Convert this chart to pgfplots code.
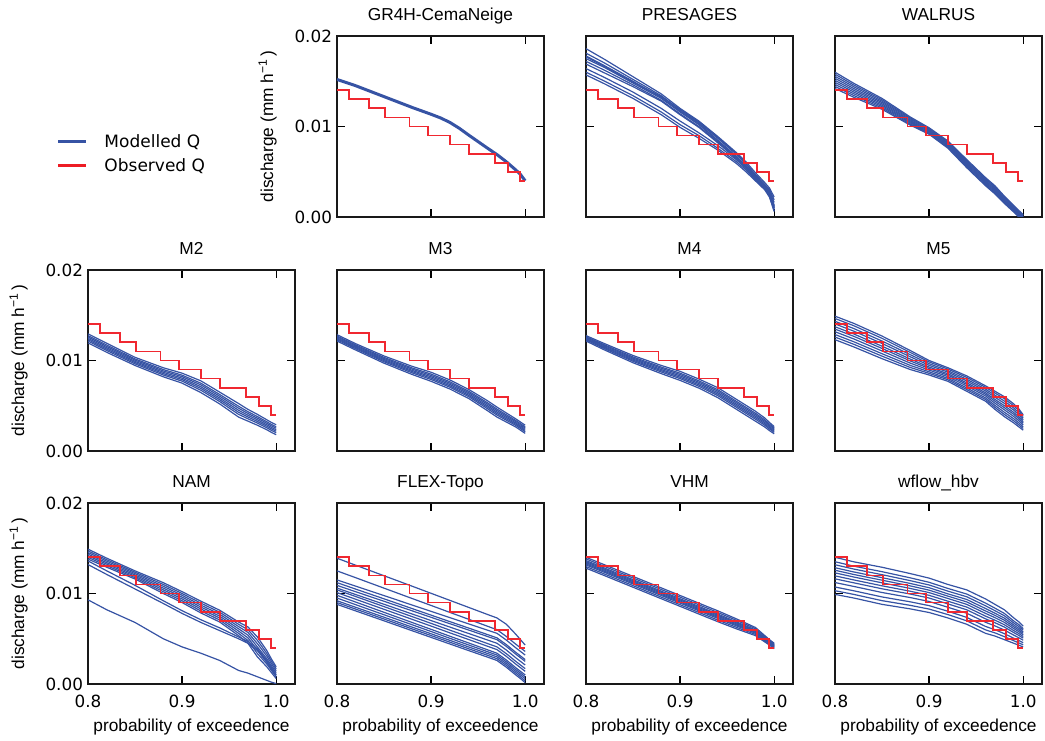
\documentclass[border=0pt]{standalone}
\usepackage{fontspec}
\setmainfont{Liberation Sans}
\newfontfamily\dvfont{DejaVu Sans}
\usepackage{pgfplots}
\usepackage{pgfplotstable}
\pgfplotsset{compat=1.18}
\definecolor{mblue}{RGB}{54,83,164}
\definecolor{ored}{RGB}{237,28,36}
\definecolor{oredl}{RGB}{240,40,48}

\pgfplotstableread{
x a
0.80 15.2e-3
0.82 14.5e-3
0.85 13.3e-3
0.88 12.1e-3
0.90 11.35e-3
0.91 10.95e-3
0.92 10.45e-3
0.93 9.8e-3
0.94 9.05e-3
0.96 7.6e-3
0.97 6.9e-3
0.98 6.1e-3
0.99 5.2e-3
0.995 4.7e-3
1.00 4.0e-3
}\tGR

\pgfplotstableread{
x a b c d e f g h i j
0.80 18.6e-3 18.1e-3 17.8e-3 17.5e-3 17.2e-3 16.9e-3 17.7e-3 16.4e-3 16.0e-3 15.7e-3
0.82 17.4e-3 17.0e-3 16.7e-3 16.5e-3 16.2e-3 15.9e-3 16.6e-3 15.4e-3 15.0e-3 14.7e-3
0.85 15.5e-3 15.2e-3 15.0e-3 14.8e-3 14.6e-3 14.4e-3 14.9e-3 13.8e-3 13.4e-3 13.1e-3
0.88 13.6e-3 13.4e-3 13.2e-3 13.1e-3 12.9e-3 12.8e-3 13.3e-3 12.0e-3 11.6e-3 11.3e-3
0.90 12.0e-3 11.8e-3 11.7e-3 11.6e-3 11.4e-3 11.3e-3 11.9e-3 10.6e-3 10.2e-3 9.9e-3
0.92 10.6e-3 10.4e-3 10.3e-3 10.2e-3 10.0e-3 9.9e-3 10.5e-3 9.3e-3 9.0e-3 8.7e-3
0.94 8.9e-3 8.7e-3 8.5e-3 8.4e-3 8.3e-3 8.2e-3 8.8e-3 7.9e-3 7.6e-3 7.4e-3
0.96 7.1e-3 6.9e-3 6.7e-3 6.6e-3 6.5e-3 6.4e-3 7.0e-3 6.3e-3 6.1e-3 5.9e-3
0.97 6.1e-3 5.9e-3 5.7e-3 5.6e-3 5.5e-3 5.4e-3 5.9e-3 5.4e-3 5.2e-3 5.0e-3
0.98 4.9e-3 4.7e-3 4.5e-3 4.4e-3 4.3e-3 4.2e-3 4.6e-3 4.3e-3 4.1e-3 4.0e-3
0.99 3.8e-3 3.6e-3 3.5e-3 3.4e-3 3.2e-3 3.1e-3 3.5e-3 3.3e-3 3.1e-3 3.0e-3
0.995 3.2e-3 3.0e-3 2.9e-3 2.7e-3 2.5e-3 2.3e-3 2.8e-3 2.6e-3 2.4e-3 2.2e-3
1.00 2.2e-3 1.9e-3 1.6e-3 1.3e-3 1.0e-3 0.7e-3 1.2e-3 1.1e-3 0.9e-3 0.6e-3
}\tPR

\pgfplotstableread{
x a b c d e f g h i
0.80 16.0e-3 15.78e-3 15.55e-3 15.33e-3 15.1e-3 14.88e-3 14.65e-3 14.43e-3 14.2e-3
0.82 14.77e-3 14.58e-3 14.39e-3 14.19e-3 14.0e-3 13.81e-3 13.62e-3 13.42e-3 13.23e-3
0.85 13.1e-3 12.95e-3 12.8e-3 12.65e-3 12.5e-3 12.35e-3 12.2e-3 12.05e-3 11.9e-3
0.88 11.05e-3 10.94e-3 10.83e-3 10.71e-3 10.6e-3 10.49e-3 10.38e-3 10.26e-3 10.15e-3
0.90 9.86e-3 9.77e-3 9.68e-3 9.59e-3 9.5e-3 9.41e-3 9.32e-3 9.23e-3 9.14e-3
0.92 8.4e-3 8.3e-3 8.2e-3 8.1e-3 8.0e-3 7.9e-3 7.8e-3 7.7e-3 7.6e-3
0.94 6.35e-3 6.24e-3 6.13e-3 6.01e-3 5.9e-3 5.79e-3 5.68e-3 5.56e-3 5.45e-3
0.96 4.35e-3 4.24e-3 4.13e-3 4.01e-3 3.9e-3 3.79e-3 3.68e-3 3.56e-3 3.45e-3
0.97 3.45e-3 3.34e-3 3.23e-3 3.11e-3 3.0e-3 2.89e-3 2.78e-3 2.66e-3 2.55e-3
0.98 2.3e-3 2.2e-3 2.1e-3 2.0e-3 1.9e-3 1.8e-3 1.7e-3 1.6e-3 1.5e-3
0.99 1.26e-3 1.17e-3 1.08e-3 0.99e-3 0.9e-3 0.81e-3 0.72e-3 0.63e-3 0.54e-3
0.995 0.76e-3 0.67e-3 0.58e-3 0.49e-3 0.4e-3 0.31e-3 0.22e-3 0.13e-3 0.04e-3
1.00 0.26e-3 0.17e-3 0.08e-3 -0.01e-3 -0.1e-3 -0.19e-3 -0.28e-3 -0.37e-3 -0.46e-3
}\tWA

\pgfplotstableread{
x a b c d e f g
0.80 12.95e-3 12.75e-3 12.6e-3 12.45e-3 12.3e-3 12.15e-3 11.95e-3
0.82 11.9e-3 11.7e-3 11.55e-3 11.4e-3 11.25e-3 11.1e-3 10.9e-3
0.85 10.35e-3 10.17e-3 10.04e-3 9.9e-3 9.77e-3 9.63e-3 9.45e-3
0.88 9.2e-3 9.0e-3 8.85e-3 8.7e-3 8.55e-3 8.4e-3 8.2e-3
0.90 8.6e-3 8.38e-3 8.22e-3 8.05e-3 7.89e-3 7.72e-3 7.5e-3
0.92 7.75e-3 7.49e-3 7.3e-3 7.1e-3 6.91e-3 6.71e-3 6.45e-3
0.94 6.5e-3 6.24e-3 6.05e-3 5.85e-3 5.66e-3 5.46e-3 5.2e-3
0.96 5.25e-3 4.95e-3 4.73e-3 4.5e-3 4.28e-3 4.05e-3 3.75e-3
0.97 4.6e-3 4.34e-3 4.15e-3 3.95e-3 3.76e-3 3.56e-3 3.3e-3
0.98 4.05e-3 3.81e-3 3.63e-3 3.45e-3 3.27e-3 3.09e-3 2.85e-3
0.99 3.45e-3 3.23e-3 3.07e-3 2.9e-3 2.74e-3 2.57e-3 2.35e-3
0.995 3.15e-3 2.93e-3 2.77e-3 2.6e-3 2.44e-3 2.27e-3 2.05e-3
1.00 2.9e-3 2.68e-3 2.52e-3 2.35e-3 2.19e-3 2.02e-3 1.8e-3
}\tMii

\pgfplotstableread{
x a b c d e f g
0.80 12.85e-3 12.71e-3 12.61e-3 12.5e-3 12.4e-3 12.29e-3 12.15e-3
0.82 11.85e-3 11.71e-3 11.61e-3 11.5e-3 11.4e-3 11.29e-3 11.15e-3
0.85 10.5e-3 10.34e-3 10.22e-3 10.1e-3 9.98e-3 9.86e-3 9.7e-3
0.88 9.35e-3 9.17e-3 9.04e-3 8.9e-3 8.77e-3 8.63e-3 8.45e-3
0.90 8.7e-3 8.5e-3 8.35e-3 8.2e-3 8.05e-3 7.9e-3 7.7e-3
0.92 7.85e-3 7.65e-3 7.5e-3 7.35e-3 7.2e-3 7.05e-3 6.85e-3
0.94 6.8e-3 6.6e-3 6.45e-3 6.3e-3 6.15e-3 6.0e-3 5.8e-3
0.96 5.55e-3 5.33e-3 5.17e-3 5.0e-3 4.84e-3 4.67e-3 4.45e-3
0.97 4.85e-3 4.63e-3 4.47e-3 4.3e-3 4.14e-3 3.97e-3 3.75e-3
0.98 4.2e-3 4.0e-3 3.85e-3 3.7e-3 3.55e-3 3.4e-3 3.2e-3
0.99 3.55e-3 3.37e-3 3.24e-3 3.1e-3 2.97e-3 2.83e-3 2.65e-3
0.995 3.2e-3 3.02e-3 2.89e-3 2.75e-3 2.62e-3 2.48e-3 2.3e-3
1.00 2.85e-3 2.67e-3 2.54e-3 2.4e-3 2.27e-3 2.13e-3 1.95e-3
}\tMiii

\pgfplotstableread{
x a b c d e f g
0.80 12.75e-3 12.63e-3 12.54e-3 12.45e-3 12.36e-3 12.27e-3 12.15e-3
0.82 11.85e-3 11.71e-3 11.61e-3 11.5e-3 11.4e-3 11.29e-3 11.15e-3
0.85 10.55e-3 10.39e-3 10.27e-3 10.15e-3 10.03e-3 9.91e-3 9.75e-3
0.88 9.45e-3 9.27e-3 9.14e-3 9.0e-3 8.87e-3 8.73e-3 8.55e-3
0.90 8.8e-3 8.6e-3 8.45e-3 8.3e-3 8.15e-3 8.0e-3 7.8e-3
0.92 7.95e-3 7.75e-3 7.6e-3 7.45e-3 7.3e-3 7.15e-3 6.95e-3
0.94 7.0e-3 6.78e-3 6.62e-3 6.45e-3 6.29e-3 6.12e-3 5.9e-3
0.96 5.7e-3 5.48e-3 5.32e-3 5.15e-3 4.99e-3 4.82e-3 4.6e-3
0.97 5.05e-3 4.83e-3 4.67e-3 4.5e-3 4.34e-3 4.17e-3 3.95e-3
0.98 4.4e-3 4.18e-3 4.02e-3 3.85e-3 3.69e-3 3.52e-3 3.3e-3
0.99 3.65e-3 3.45e-3 3.3e-3 3.15e-3 3.0e-3 2.85e-3 2.65e-3
0.995 3.15e-3 2.97e-3 2.84e-3 2.7e-3 2.57e-3 2.43e-3 2.25e-3
1.00 2.7e-3 2.54e-3 2.42e-3 2.3e-3 2.18e-3 2.06e-3 1.9e-3
}\tMiv

\pgfplotstableread{
x a b c d e f g h i j
0.80 14.9e-3 14.64e-3 14.33e-3 14.04e-3 13.73e-3 13.47e-3 13.18e-3 12.87e-3 12.59e-3 12.3e-3
0.82 14.1e-3 13.84e-3 13.53e-3 13.24e-3 12.93e-3 12.67e-3 12.38e-3 12.07e-3 11.79e-3 11.5e-3
0.85 12.7e-3 12.45e-3 12.15e-3 11.88e-3 11.58e-3 11.33e-3 11.05e-3 10.75e-3 10.48e-3 10.2e-3
0.88 11.1e-3 10.89e-3 10.64e-3 10.41e-3 10.16e-3 9.95e-3 9.71e-3 9.46e-3 9.23e-3 9.0e-3
0.90 10.0e-3 9.84e-3 9.65e-3 9.47e-3 9.28e-3 9.12e-3 8.94e-3 8.75e-3 8.58e-3 8.4e-3
0.92 9.2e-3 9.05e-3 8.87e-3 8.71e-3 8.53e-3 8.38e-3 8.21e-3 8.03e-3 7.87e-3 7.7e-3
0.94 8.3e-3 8.13e-3 7.93e-3 7.74e-3 7.54e-3 7.37e-3 7.18e-3 6.97e-3 6.79e-3 6.6e-3
0.96 7.2e-3 7.03e-3 6.83e-3 6.64e-3 6.44e-3 6.27e-3 6.08e-3 5.87e-3 5.69e-3 5.5e-3
0.97 6.6e-3 6.4e-3 6.16e-3 5.94e-3 5.7e-3 5.5e-3 5.28e-3 5.04e-3 4.82e-3 4.6e-3
0.98 6.0e-3 5.78e-3 5.52e-3 5.27e-3 5.01e-3 4.79e-3 4.55e-3 4.28e-3 4.04e-3 3.8e-3
0.99 5.2e-3 4.99e-3 4.74e-3 4.51e-3 4.26e-3 4.05e-3 3.81e-3 3.56e-3 3.33e-3 3.1e-3
0.995 4.7e-3 4.5e-3 4.26e-3 4.04e-3 3.8e-3 3.6e-3 3.38e-3 3.14e-3 2.92e-3 2.7e-3
1.00 4.0e-3 3.83e-3 3.63e-3 3.44e-3 3.24e-3 3.07e-3 2.88e-3 2.67e-3 2.49e-3 2.3e-3
}\tMv

\pgfplotstableread{
x a b c d e f g h i j
0.80 14.9e-3 14.71e-3 14.53e-3 14.35e-3 14.17e-3 13.99e-3 13.8e-3 13.6e-3 13.2e-3 9.3e-3
0.82 13.9e-3 13.73e-3 13.57e-3 13.4e-3 13.24e-3 13.07e-3 12.9e-3 12.5e-3 12.1e-3 8.2e-3
0.85 12.5e-3 12.35e-3 12.2e-3 12.05e-3 11.9e-3 11.75e-3 11.6e-3 10.9e-3 10.5e-3 6.8e-3
0.88 11.2e-3 11.0e-3 10.8e-3 10.6e-3 10.4e-3 10.2e-3 10.0e-3 9.2e-3 8.9e-3 5.0e-3
0.90 10.2e-3 10.0e-3 9.8e-3 9.6e-3 9.4e-3 9.2e-3 9.0e-3 8.1e-3 7.8e-3 4.1e-3
0.92 9.15e-3 8.93e-3 8.71e-3 8.5e-3 8.29e-3 8.07e-3 7.85e-3 7.1e-3 6.8e-3 3.4e-3
0.94 8.15e-3 7.93e-3 7.71e-3 7.5e-3 7.29e-3 7.07e-3 6.85e-3 6.2e-3 5.9e-3 2.6e-3
0.96 6.85e-3 6.6e-3 6.35e-3 6.1e-3 5.85e-3 5.6e-3 5.35e-3 5.2e-3 5.0e-3 1.5e-3
0.97 6.3e-3 6.0e-3 5.7e-3 5.4e-3 5.1e-3 4.81e-3 4.5e-3 4.7e-3 4.5e-3 1.2e-3
0.98 5.2e-3 4.83e-3 4.46e-3 4.1e-3 3.74e-3 3.37e-3 3.0e-3 3.9e-3 3.7e-3 0.8e-3
0.99 3.7e-3 3.39e-3 3.1e-3 2.8e-3 2.5e-3 2.21e-3 1.9e-3 2.6e-3 2.4e-3 0.4e-3
0.995 2.75e-3 2.5e-3 2.25e-3 2.0e-3 1.75e-3 1.5e-3 1.25e-3 1.8e-3 1.6e-3 0.2e-3
1.00 1.9e-3 1.68e-3 1.46e-3 1.25e-3 1.04e-3 0.82e-3 0.6e-3 1.0e-3 0.8e-3 0.05e-3
}\tNA

\pgfplotstableread{
x a b c d e f g h i j k l m
0.80 13.9e-3 12.5e-3 11.5e-3 11.2e-3 10.9e-3 10.6e-3 10.4e-3 10.1e-3 9.8e-3 9.5e-3 9.2e-3 9.0e-3 8.8e-3
0.82 13.12e-3 11.74e-3 10.81e-3 10.48e-3 10.19e-3 9.88e-3 9.66e-3 9.36e-3 9.05e-3 8.76e-3 8.47e-3 8.27e-3 8.07e-3
0.85 11.96e-3 10.59e-3 9.77e-3 9.41e-3 9.14e-3 8.81e-3 8.55e-3 8.25e-3 7.92e-3 7.65e-3 7.38e-3 7.18e-3 6.98e-3
0.88 10.8e-3 9.44e-3 8.72e-3 8.33e-3 8.08e-3 7.73e-3 7.44e-3 7.14e-3 6.79e-3 6.54e-3 6.28e-3 6.08e-3 5.88e-3
0.90 10.02e-3 8.68e-3 8.03e-3 7.61e-3 7.37e-3 7.01e-3 6.7e-3 6.4e-3 6.04e-3 5.8e-3 5.55e-3 5.35e-3 5.15e-3
0.92 9.24e-3 7.91e-3 7.33e-3 6.89e-3 6.66e-3 6.29e-3 5.95e-3 5.65e-3 5.28e-3 5.05e-3 4.82e-3 4.62e-3 4.42e-3
0.94 8.46e-3 7.15e-3 6.64e-3 6.18e-3 5.96e-3 5.58e-3 5.21e-3 4.91e-3 4.53e-3 4.31e-3 4.09e-3 3.89e-3 3.69e-3
0.96 7.68e-3 6.38e-3 5.95e-3 5.46e-3 5.25e-3 4.86e-3 4.47e-3 4.17e-3 3.78e-3 3.57e-3 3.37e-3 3.17e-3 2.97e-3
0.97 7.3e-3 6.0e-3 5.6e-3 5.1e-3 4.9e-3 4.5e-3 4.1e-3 3.8e-3 3.4e-3 3.2e-3 3.0e-3 2.8e-3 2.6e-3
0.98 6.6e-3 5.25e-3 4.85e-3 4.35e-3 4.15e-3 3.75e-3 3.35e-3 3.05e-3 2.65e-3 2.45e-3 2.25e-3 2.05e-3 1.85e-3
0.99 5.5e-3 4.4e-3 4.0e-3 3.5e-3 3.3e-3 2.9e-3 2.5e-3 2.2e-3 1.8e-3 1.6e-3 1.4e-3 1.2e-3 1.0e-3
0.995 4.9e-3 4.0e-3 3.6e-3 3.1e-3 2.9e-3 2.5e-3 2.1e-3 1.8e-3 1.4e-3 1.2e-3 1.0e-3 0.8e-3 0.6e-3
1.00 4.3e-3 3.6e-3 3.2e-3 2.7e-3 2.5e-3 2.1e-3 1.7e-3 1.4e-3 1.0e-3 0.8e-3 0.6e-3 0.35e-3 0.15e-3
}\tFL

\pgfplotstableread{
x a b c d e f g h i
0.80 14.0e-3 13.82e-3 13.64e-3 13.52e-3 13.4e-3 13.28e-3 13.16e-3 12.98e-3 12.8e-3
0.82 13.16e-3 12.98e-3 12.8e-3 12.68e-3 12.56e-3 12.44e-3 12.32e-3 12.14e-3 11.96e-3
0.85 11.89e-3 11.71e-3 11.53e-3 11.41e-3 11.29e-3 11.17e-3 11.05e-3 10.87e-3 10.69e-3
0.88 10.62e-3 10.44e-3 10.26e-3 10.14e-3 10.02e-3 9.9e-3 9.78e-3 9.6e-3 9.42e-3
0.90 9.78e-3 9.6e-3 9.42e-3 9.3e-3 9.18e-3 9.06e-3 8.94e-3 8.76e-3 8.58e-3
0.92 8.93e-3 8.75e-3 8.57e-3 8.45e-3 8.33e-3 8.21e-3 8.09e-3 7.91e-3 7.73e-3
0.94 8.09e-3 7.91e-3 7.73e-3 7.61e-3 7.49e-3 7.37e-3 7.25e-3 7.07e-3 6.89e-3
0.96 7.19e-3 7.03e-3 6.86e-3 6.75e-3 6.64e-3 6.53e-3 6.42e-3 6.26e-3 6.09e-3
0.97 6.72e-3 6.57e-3 6.42e-3 6.32e-3 6.22e-3 6.12e-3 6.02e-3 5.87e-3 5.72e-3
0.98 6.25e-3 6.12e-3 5.98e-3 5.89e-3 5.8e-3 5.71e-3 5.62e-3 5.49e-3 5.35e-3
0.99 5.35e-3 5.25e-3 5.14e-3 5.07e-3 5.0e-3 4.93e-3 4.86e-3 4.76e-3 4.65e-3
0.995 4.9e-3 4.81e-3 4.72e-3 4.66e-3 4.6e-3 4.54e-3 4.48e-3 4.39e-3 4.3e-3
1.00 4.5e-3 4.41e-3 4.32e-3 4.26e-3 4.2e-3 4.14e-3 4.08e-3 3.99e-3 3.9e-3
}\tVH

\pgfplotstableread{
x a b c d e f g h i j k l
0.80 14.0e-3 13.51e-3 13.18e-3 12.85e-3 12.57e-3 12.28e-3 11.95e-3 11.62e-3 11.21e-3 10.72e-3 10.31e-3 9.9e-3
0.82 13.5e-3 13.02e-3 12.7e-3 12.38e-3 12.1e-3 11.82e-3 11.5e-3 11.18e-3 10.78e-3 10.3e-3 9.9e-3 9.5e-3
0.85 12.9e-3 12.41e-3 12.08e-3 11.75e-3 11.47e-3 11.18e-3 10.85e-3 10.52e-3 10.11e-3 9.62e-3 9.21e-3 8.8e-3
0.88 12.2e-3 11.73e-3 11.42e-3 11.11e-3 10.84e-3 10.56e-3 10.25e-3 9.94e-3 9.55e-3 9.08e-3 8.69e-3 8.3e-3
0.90 11.7e-3 11.24e-3 10.94e-3 10.64e-3 10.37e-3 10.1e-3 9.8e-3 9.5e-3 9.12e-3 8.66e-3 8.28e-3 7.9e-3
0.92 11.0e-3 10.56e-3 10.26e-3 9.96e-3 9.71e-3 9.45e-3 9.15e-3 8.85e-3 8.48e-3 8.04e-3 7.67e-3 7.3e-3
0.94 10.4e-3 9.94e-3 9.64e-3 9.34e-3 9.07e-3 8.8e-3 8.5e-3 8.2e-3 7.82e-3 7.36e-3 6.98e-3 6.6e-3
0.96 9.4e-3 8.94e-3 8.64e-3 8.34e-3 8.07e-3 7.8e-3 7.5e-3 7.2e-3 6.82e-3 6.36e-3 5.98e-3 5.6e-3
0.97 8.8e-3 8.38e-3 8.1e-3 7.82e-3 7.58e-3 7.33e-3 7.05e-3 6.77e-3 6.42e-3 6.0e-3 5.65e-3 5.3e-3
0.98 8.2e-3 7.8e-3 7.54e-3 7.28e-3 7.05e-3 6.81e-3 6.55e-3 6.29e-3 5.96e-3 5.56e-3 5.23e-3 4.9e-3
0.99 7.3e-3 6.96e-3 6.74e-3 6.52e-3 6.32e-3 6.12e-3 5.9e-3 5.68e-3 5.4e-3 5.06e-3 4.78e-3 4.5e-3
0.995 6.9e-3 6.59e-3 6.38e-3 6.17e-3 5.99e-3 5.81e-3 5.6e-3 5.39e-3 5.13e-3 4.82e-3 4.56e-3 4.3e-3
1.00 6.4e-3 6.12e-3 5.94e-3 5.76e-3 5.6e-3 5.43e-3 5.25e-3 5.07e-3 4.84e-3 4.56e-3 4.33e-3 4.1e-3
}\tWF

\newcommand\tickfnt{\dvfont\fontsize{16.8}{18}\selectfont}
\newcommand\labfnt{\fontsize{17.3}{20}\selectfont}

\pgfplotsset{
  modq/.style={mblue, line width=1.2pt},
  obsq/.style={const plot, color=oredl, line width=1.8pt},
  panel/.style={
    scale only axis, width=207pt, height=181pt, anchor=south west,
    xmin=0.8, xmax=1.02, ymin=0, ymax=0.02,
    xtick={0.8,0.9,1.0}, ytick={0,0.01,0.02},
    xticklabels={}, yticklabels={},
    scaled x ticks=false, scaled y ticks=false,
    tick align=inside, tick pos=both,
    major tick length=8pt,
    every tick/.append style={line width=1.2pt, black},
    axis line style={line width=2pt, black!90},
    xticklabel style={font=\tickfnt, yshift=-7pt},
    yticklabel style={font=\tickfnt, xshift=-1.5pt},
    title style={font=\labfnt, at={(0.5,1)}, anchor=base, yshift=9.5pt},
    label style={font=\labfnt},
  },
  showx/.style={xticklabels={0.8,0.9,1.0}, xlabel={probability of exceedence},
    xlabel style={at={(axis description cs:0.5,-0.26)}, anchor=base}},
  showy/.style={yticklabels={0.00,0.01,0.02}, ylabel={discharge (mm h\textsuperscript{−1}\,)},
    ylabel style={at={(axis description cs:-0.309,0.5)}, anchor=base}},
}

\newcommand\modlines[2]{\pgfplotsinvokeforeach{#2}{\addplot[modq] table[x=x,y=##1]{#1};}}
\newcommand\obsline{\addplot[obsq] coordinates {(0.8,0.014) (0.8124,0.013) (0.8336,0.012) (0.8512,0.011) (0.877,0.010) (0.8963,0.009) (0.920,0.008) (0.9405,0.007) (0.968,0.006) (0.982,0.005) (0.9945,0.004) (1.0,0.004)};}

\begin{document}
\begin{tikzpicture}
% Row 1
\begin{axis}[panel, showy, at={(337pt,523pt)}, title={GR4H-CemaNeige},
  legend style={at={(axis description cs:-1.3527,0.4569)}, anchor=north west, draw=none, fill=none,
    inner sep=0pt, outer sep=0pt, row sep=9.5pt, font=\dvfont\fontsize{17}{20}\selectfont,
    nodes={inner sep=0pt, text height=13pt, text depth=1.5pt},
    /tikz/every odd column/.append style={column sep=16.5pt}},
  legend cell align=left,
  legend image code/.code={\draw[#1, line width=3pt] (0pt,0pt) -- (28pt,0pt);}]
\addlegendimage{mblue}\addlegendentry{Modelled Q}
\addlegendimage{ored}\addlegendentry{Observed Q}
\addplot[mblue, line width=3pt] table[x=x,y=a]{\tGR};
\obsline
\end{axis}
\begin{axis}[panel, at={(586pt,523pt)}, title={PRESAGES}]
\modlines{\tPR}{a,b,c,d,e,f,g,h,i,j}
\obsline
\end{axis}
\begin{axis}[panel, at={(835pt,523pt)}, title={WALRUS}]
\modlines{\tWA}{a,b,c,d,e,f,g,h,i}
\obsline
\end{axis}
% Row 2
\begin{axis}[panel, showy, at={(88pt,289pt)}, title={M2}]
\modlines{\tMii}{a,b,c,d,e,f,g}
\obsline
\end{axis}
\begin{axis}[panel, at={(337pt,289pt)}, title={M3}]
\modlines{\tMiii}{a,b,c,d,e,f,g}
\obsline
\end{axis}
\begin{axis}[panel, at={(586pt,289pt)}, title={M4}]
\modlines{\tMiv}{a,b,c,d,e,f,g}
\obsline
\end{axis}
\begin{axis}[panel, at={(835pt,289pt)}, title={M5}]
\modlines{\tMv}{a,b,c,d,e,f,g,h,i,j}
\obsline
\end{axis}
% Row 3
\begin{axis}[panel, showy, showx, at={(88pt,56pt)}, title={NAM}]
\modlines{\tNA}{a,b,c,d,e,f,g,h,i,j}
\obsline
\end{axis}
\begin{axis}[panel, showx, at={(337pt,56pt)}, title={FLEX-Topo}]
\modlines{\tFL}{a,b,c,d,e,f,g,h,i,j,k,l,m}
\obsline
\end{axis}
\begin{axis}[panel, showx, at={(586pt,56pt)}, title={VHM}]
\modlines{\tVH}{a,b,c,d,e,f,g,h,i}
\obsline
\end{axis}
\begin{axis}[panel, showx, at={(835pt,56pt)}, title={wflow\_hbv}]
\modlines{\tWF}{a,b,c,d,e,f,g,h,i,j,k,l}
\obsline
\end{axis}
\pgfresetboundingbox
\useasboundingbox (0pt,0pt) rectangle (1045pt,740pt);
\end{tikzpicture}
\end{document}
